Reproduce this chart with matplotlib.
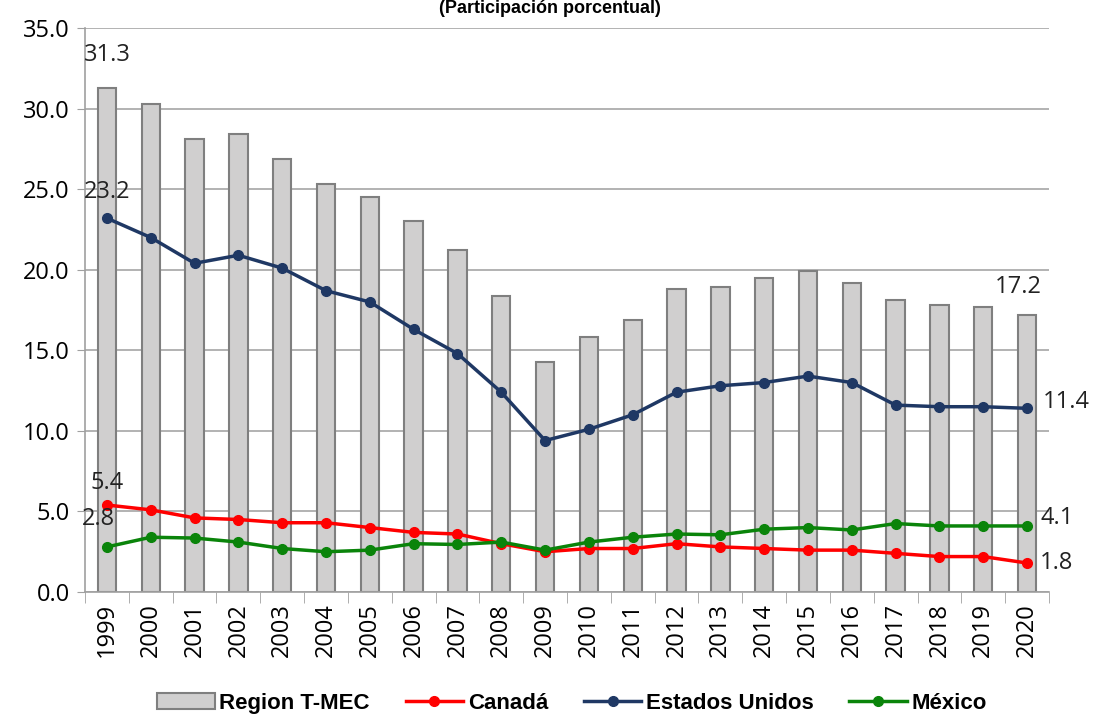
import numpy as np
import matplotlib
matplotlib.use('Agg')
import matplotlib.pyplot as plt

# Datos (participación porcentual)
years = [str(y) for y in range(1999, 2021)]
region_tmec = [31.3, 30.3, 28.1, 28.4, 26.9, 25.3, 24.5, 23.0, 21.2, 18.4, 14.3,
               15.8, 16.9, 18.8, 18.9, 19.5, 19.9, 19.2, 18.1, 17.8, 17.7, 17.2]
estados_unidos = [23.2, 22.0, 20.4, 20.9, 20.1, 18.7, 18.0, 16.3, 14.8, 12.4, 9.4,
                  10.1, 11.0, 12.4, 12.8, 13.0, 13.4, 13.0, 11.6, 11.5, 11.5, 11.4]
canada = [5.4, 5.1, 4.6, 4.5, 4.3, 4.3, 4.0, 3.7, 3.6, 3.0, 2.5,
          2.7, 2.7, 3.0, 2.8, 2.7, 2.6, 2.6, 2.4, 2.2, 2.2, 1.8]
mexico = [2.8, 3.4, 3.35, 3.1, 2.7, 2.5, 2.6, 3.0, 2.95, 3.1, 2.6,
          3.1, 3.4, 3.6, 3.55, 3.9, 4.0, 3.85, 4.25, 4.1, 4.1, 4.1]

plt.rcParams['font.family'] = ['Open Sans', 'DejaVu Sans']

fig = plt.figure(figsize=(11, 7.19), dpi=100)
ax = fig.add_axes([0.0773, 0.1766, 0.8763, 0.7844])

x = np.arange(len(years))
bars = ax.bar(x, region_tmec, width=0.42, color='#d0cfcf', edgecolor='#7f7f7f',
              linewidth=1.5, label='Region T-MEC', zorder=2)
l_ca, = ax.plot(x, canada, color='#ff0000', marker='o', markersize=7, linewidth=2.5,
                label='Canadá', zorder=3)
l_us, = ax.plot(x, estados_unidos, color='#1f3864', marker='o', markersize=7, linewidth=2.5,
                label='Estados Unidos', zorder=4)
l_mx, = ax.plot(x, mexico, color='#0a840a', marker='o', markersize=7, linewidth=2.5,
                label='México', zorder=3)

ax.set_xlim(-0.5, len(years) - 0.5)
ax.set_ylim(0, 35)
ax.set_yticks(np.arange(0, 35.1, 5))
ax.set_yticklabels([f'{v:.1f}' for v in np.arange(0, 35.1, 5)], fontsize=17)
ax.set_xticks(x)
ax.set_xticklabels(years, rotation=90, fontsize=17)
ax.set_xticks(np.arange(-0.5, len(years), 1), minor=True)
ax.tick_params(axis='x', which='major', length=0, pad=8)
ax.tick_params(axis='x', which='minor', length=8, color='#a0a0a0', direction='out')
ax.tick_params(axis='y', length=6, color='#a0a0a0', pad=5)

ax.yaxis.grid(True, color='#a6a6a6', linewidth=1.2, zorder=0)
ax.set_axisbelow(True)
for s in ['top', 'right']:
    ax.spines[s].set_visible(False)
for s in ['left', 'bottom']:
    ax.spines[s].set_color('#a0a0a0')
    ax.spines[s].set_linewidth(1.2)

# Etiquetas de datos
lab = dict(fontsize=17, color='#222222')
ax.text(x[0], region_tmec[0] + 1.3, f'{region_tmec[0]:.1f}', ha='center', va='bottom', **lab)
ax.text(x[0], estados_unidos[0] + 0.9, f'{estados_unidos[0]:.1f}', ha='center', va='bottom', **lab)
ax.text(x[0], canada[0] + 0.6, f'{canada[0]:.1f}', ha='center', va='bottom', **lab)
ax.text(x[0] - 0.2, mexico[0] + 1.0, f'{mexico[0]:.1f}', ha='center', va='bottom', **lab)
ax.text(x[-1] - 0.2, region_tmec[-1] + 1.0, f'{region_tmec[-1]:.1f}', ha='center', va='bottom', **lab)
ax.text(x[-1] + 0.35, estados_unidos[-1] + 0.4, f'{estados_unidos[-1]:.1f}', ha='left', va='center', **lab)
ax.text(x[-1] + 0.3, mexico[-1] + 0.5, f'{mexico[-1]:.1f}', ha='left', va='center', **lab)
ax.text(x[-1] + 0.3, canada[-1], f'{canada[-1]:.1f}', ha='left', va='center', **lab)

fig.text(0.5, 1.0, '(Participación porcentual)', ha='center', va='top',
         fontsize=13, fontweight='bold', family=['Liberation Sans', 'DejaVu Sans'])

fig.legend([bars, l_ca, l_us, l_mx], ['Region T-MEC', 'Canadá', 'Estados Unidos', 'México'],
           loc='center', bbox_to_anchor=(0.52, 0.022), ncol=4, frameon=False,
           prop={'family': ['Liberation Sans Narrow', 'Liberation Sans', 'DejaVu Sans'],
                 'weight': 'bold', 'size': 16},
           handlelength=2.6, handletextpad=0.2, columnspacing=1.6)

fig.savefig('out.png', dpi=100)
